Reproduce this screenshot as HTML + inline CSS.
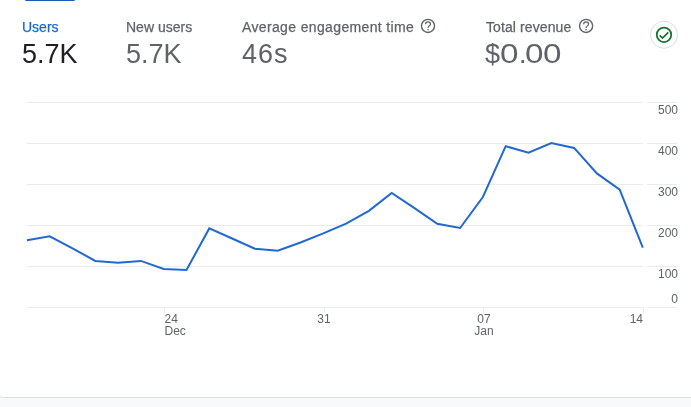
<!DOCTYPE html>
<html><head><meta charset="utf-8">
<style>
html,body{margin:0;padding:0;}
body{width:691px;height:407px;overflow:hidden;background:#f8f9fa;position:relative;font-family:"Liberation Sans",sans-serif;}
.card{position:absolute;left:-3px;top:-20px;width:720px;height:418px;box-sizing:border-box;background:#fff;border:1px solid #dadce0;border-radius:6px;}
.tab{position:absolute;left:24px;top:-2px;width:52px;height:3.2px;background:#1d5bb3;border-radius:0 0 3px 3px;}
.lbl,.val{will-change:transform;}
.lbl{-webkit-text-stroke:0.25px currentColor;position:absolute;top:19px;font-size:14px;color:#5f6368;white-space:nowrap;line-height:16px;}
.val{position:absolute;top:39px;font-size:27px;color:#5f6368;white-space:nowrap;line-height:30px;}
svg{position:absolute;left:0;top:0;}
.z{transform:scaleX(1.23);transform-origin:0 0;}
</style></head><body>
<div class="card"></div>
<div class="tab"></div>

<div class="lbl" style="left:22px;color:#1967d2">Users</div>
<div class="val" style="left:22px;color:#202124">5.7K</div>

<div class="lbl" style="left:126px">New users</div>
<div class="val" style="left:126px">5.7K</div>

<div class="lbl" style="left:242px;letter-spacing:0.36px">Average engagement time</div>
<div class="val" style="left:242px;letter-spacing:1px">46s</div>

<div class="lbl" style="left:486px;letter-spacing:0.1px">Total revenue</div>
<div class="val" style="left:485px">$</div>
<div class="val z" style="left:499.5px">0</div>
<div class="val" style="left:519px">.</div>
<div class="val z" style="left:524.5px">0</div>
<div class="val z" style="left:543px">0</div>

<svg width="691" height="407" viewBox="0 0 691 407">
  <!-- help icons -->
  <g>
    <circle cx="428.0" cy="25.9" r="6.55" fill="none" stroke="#5f6368" stroke-width="1.4"/><path d="M425.55,24.20 C425.55,22.80 426.65,21.80 428.00,21.80 C429.40,21.80 430.45,22.80 430.45,24.00 C430.45,25.80 428.00,26.00 428.00,28.00" fill="none" stroke="#5f6368" stroke-width="1.25"/><circle cx="428.0" cy="29.80" r="0.8" fill="#5f6368"/>
    <circle cx="586.1" cy="25.9" r="6.55" fill="none" stroke="#5f6368" stroke-width="1.4"/><path d="M583.65,24.20 C583.65,22.80 584.75,21.80 586.10,21.80 C587.50,21.80 588.55,22.80 588.55,24.00 C588.55,25.80 586.10,26.00 586.10,28.00" fill="none" stroke="#5f6368" stroke-width="1.25"/><circle cx="586.1" cy="29.80" r="0.8" fill="#5f6368"/>
  </g>
  <!-- check button -->
  <circle cx="664" cy="34.8" r="13.5" fill="#fff" stroke="#dadce0" stroke-width="1"/>
  <circle cx="664" cy="34.8" r="7.25" fill="none" stroke="#1a7336" stroke-width="1.8"/>
  <path d="M659.7 35.3 L662.5 38.1 L668.3 32.3" fill="none" stroke="#1a7336" stroke-width="1.8"/>

  <!-- gridlines -->
  <g fill="#ebebeb">
    <rect x="27" y="102" width="616" height="1"/>
    <rect x="27" y="143" width="616" height="1"/>
    <rect x="27" y="184" width="616" height="1"/>
    <rect x="27" y="225" width="616" height="1"/>
    <rect x="27" y="266" width="616" height="1"/>
    <rect x="27" y="307" width="616" height="1"/>
    <rect x="647" y="102" width="30" height="1"/>
    <rect x="647" y="143" width="30" height="1"/>
    <rect x="647" y="184" width="30" height="1"/>
    <rect x="647" y="225" width="30" height="1"/>
    <rect x="647" y="266" width="30" height="1"/>
    <rect x="647" y="307" width="30" height="1"/>
    <rect x="164" y="307" width="1" height="6"/>
    <rect x="324" y="307" width="1" height="6"/>
    <rect x="483" y="307" width="1" height="6"/>
    <rect x="643" y="307" width="1" height="6"/>
  </g>
  <polyline fill="none" stroke="#2169d1" stroke-width="2" stroke-linejoin="miter"
    points="26.9,240.2 49.7,236.3 72.5,248.3 95.3,260.9 118.1,262.7 140.9,260.9 163.7,269.0 186.5,269.9 209.3,228.4 232.1,238.5 254.9,248.7 277.7,250.8 300.5,242.5 323.3,233.4 346.1,223.6 368.9,210.8 391.7,193.0 414.5,208.2 437.3,223.8 460.1,228.0 482.9,197.0 505.7,146.2 528.5,152.7 551.3,143.1 574.1,147.9 596.9,173.4 619.7,189.6 642.8,247.6"/>
  <g font-family="Liberation Sans" font-size="12" fill="#5f6368" text-anchor="end">
    <text x="678" y="114">500</text>
    <text x="678" y="155">400</text>
    <text x="678" y="196">300</text>
    <text x="678" y="237">200</text>
    <text x="678" y="278">100</text>
    <text x="678" y="303">0</text>
  </g>
  <g font-family="Liberation Sans" font-size="12" fill="#5f6368">
    <text x="164.5" y="323">24</text>
    <text x="164.5" y="335">Dec</text>
    <text x="324" y="323" text-anchor="middle">31</text>
    <text x="484" y="323" text-anchor="middle">07</text>
    <text x="484" y="335" text-anchor="middle">Jan</text>
    <text x="643" y="323" text-anchor="end">14</text>
  </g>
</svg>
</body></html>
